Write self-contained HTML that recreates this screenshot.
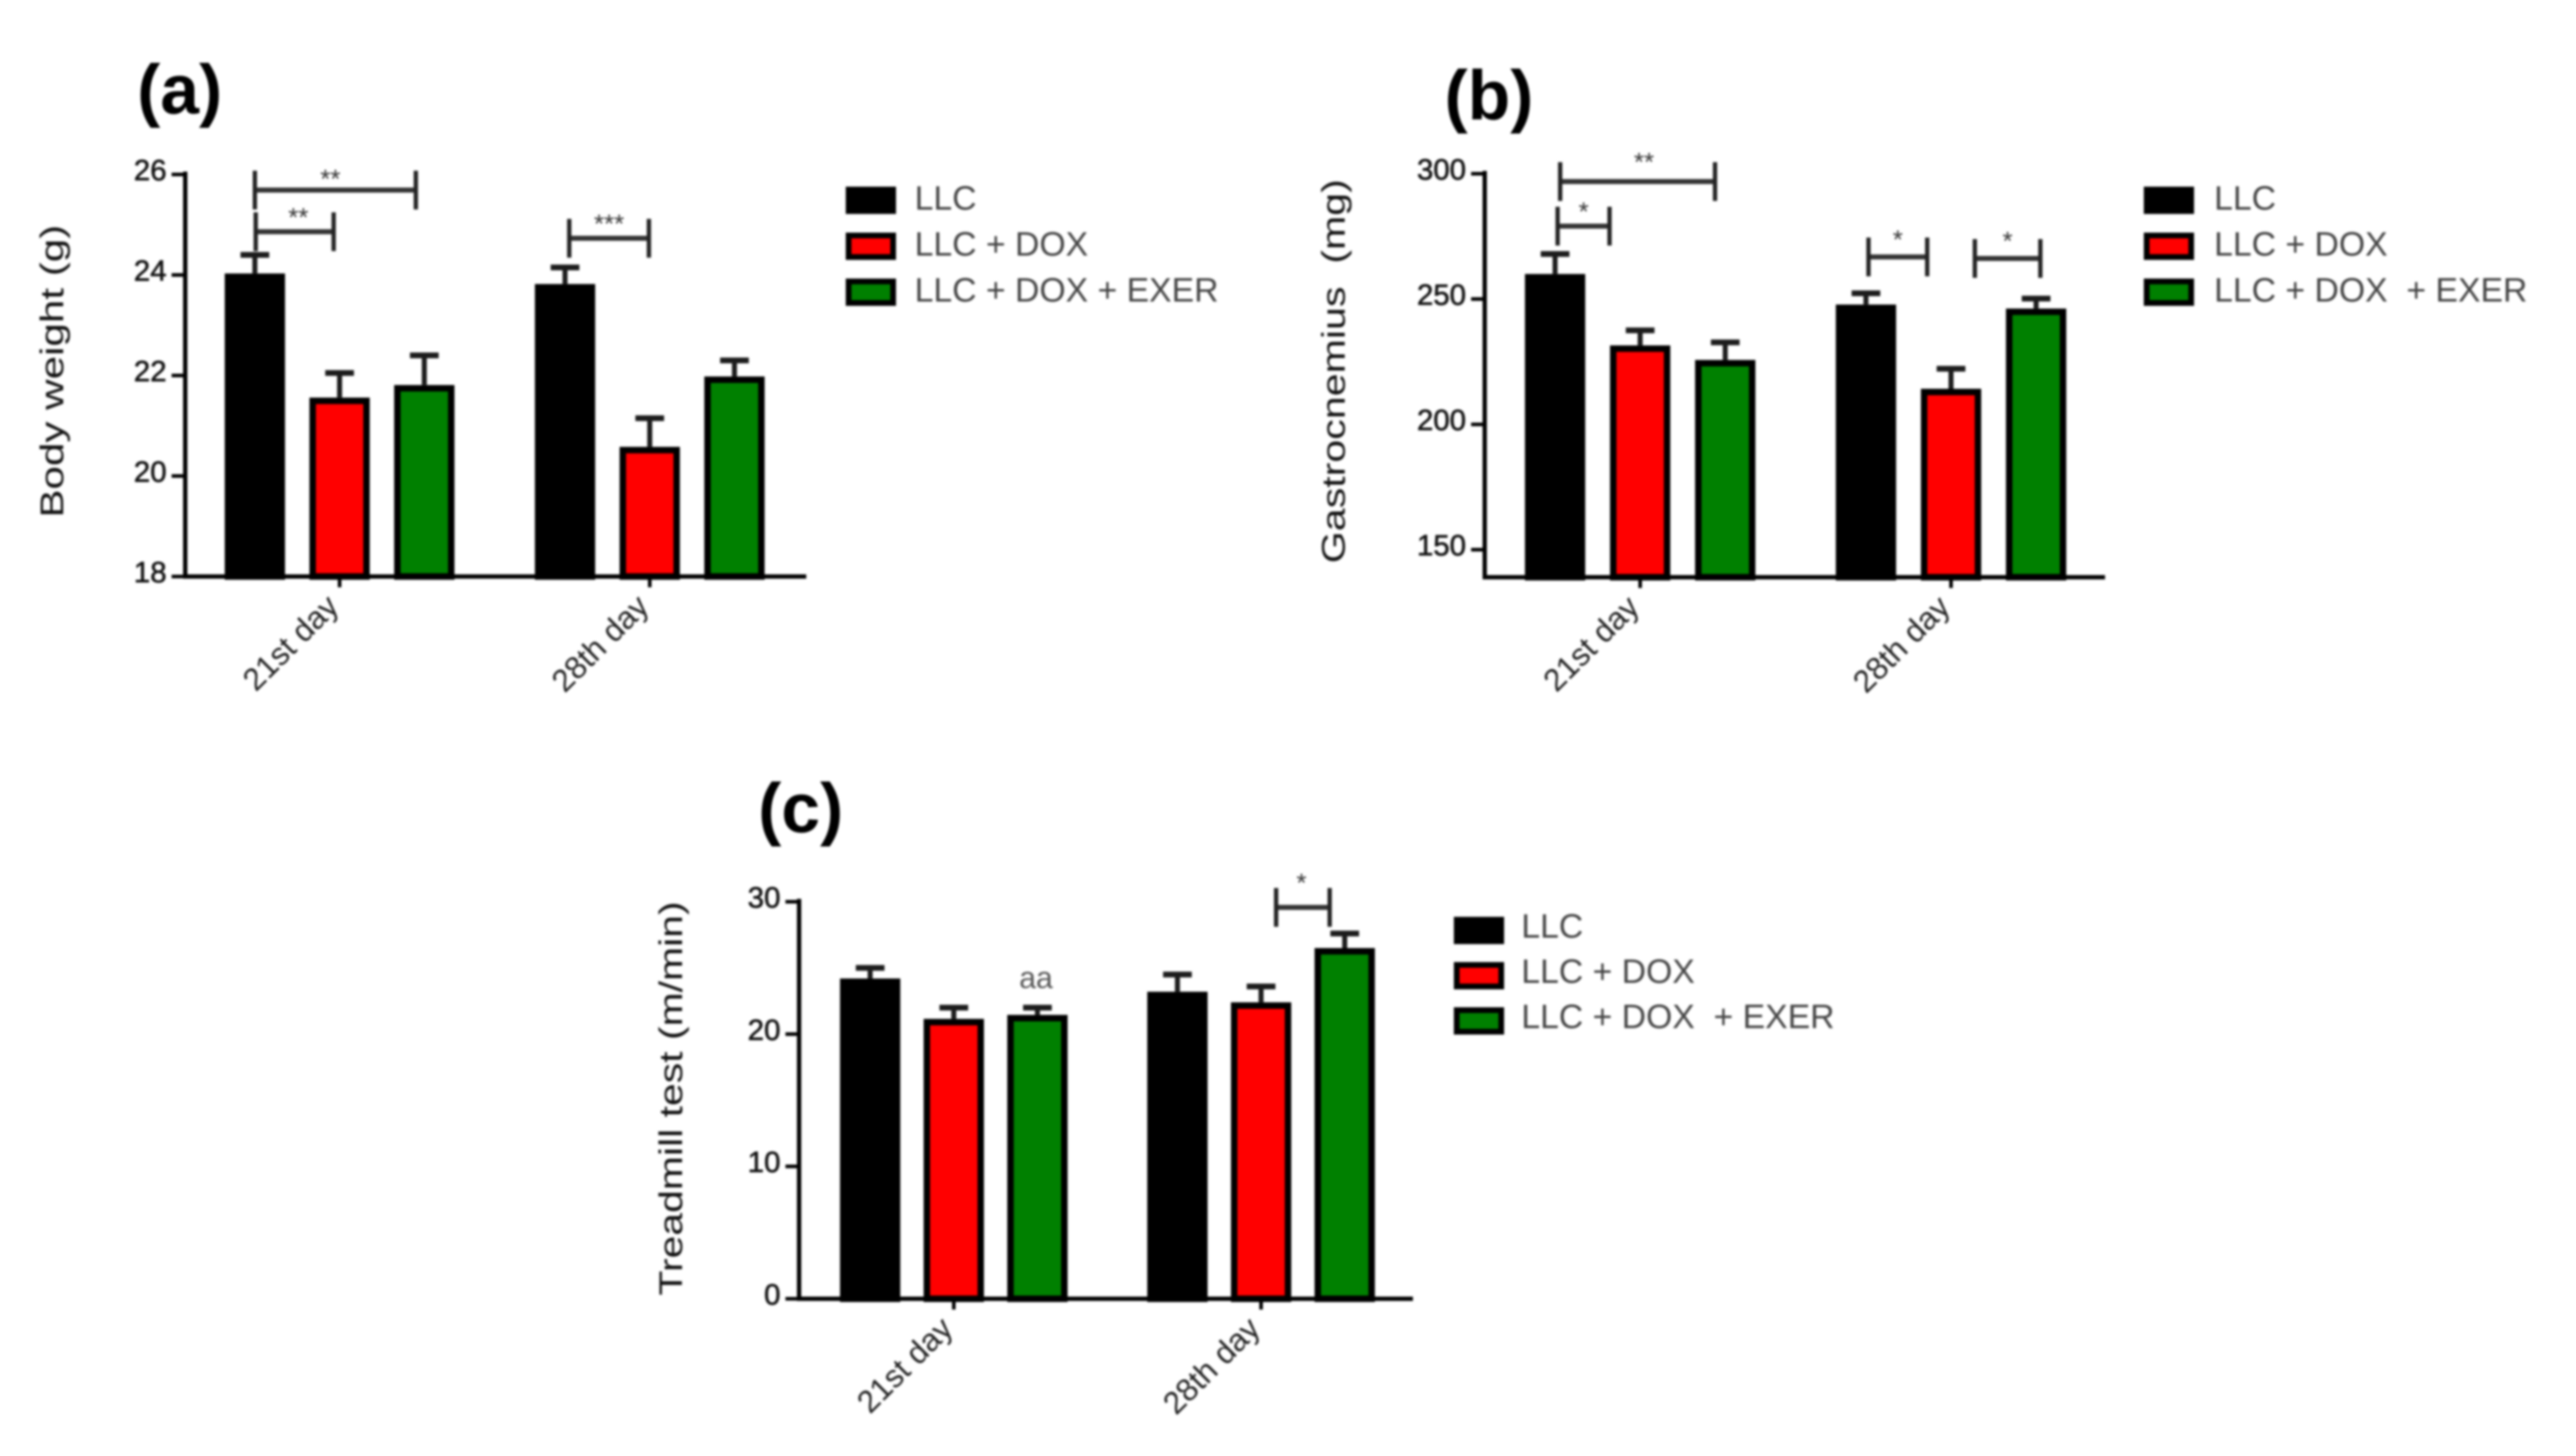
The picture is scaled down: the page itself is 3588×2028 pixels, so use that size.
<!DOCTYPE html>
<html lang="en">
<head>
<meta charset="utf-8">
<title>Body weight, gastrocnemius and treadmill test bar charts</title>
<style>
html,body{margin:0;padding:0;background:#fff;width:3588px;height:2028px;overflow:hidden}
svg{display:block;filter:blur(1.5px)}
text{font-family:"Liberation Sans",Arial,sans-serif;white-space:pre}
</style>
</head>
<body>
<svg id="figure" xmlns="http://www.w3.org/2000/svg" width="3588" height="2028" viewBox="0 0 3588 2028"></svg>
<script>
const categories = ['21st day', '28th day'];
const seriesColors = ['#000000', '#ff0000', '#008000'];

const weightTicks = [18, 20, 22, 24, 26];
const weightLLC = [24.03, 23.82];
const weightDOX = [21.56, 20.58];
const weightEXER = [21.81, 21.98];
const weightErrLLC = [0.37, 0.33];
const weightErrDOX = [0.49, 0.57];
const weightErrEXER = [0.59, 0.32];
const weightLegend = ['LLC', 'LLC + DOX', 'LLC + DOX + EXER'];
const weightBrackets = [[0, 0, 1.9, 25.69, '**', -7, 5], [0, 0.01, 0.93, 24.86, '**', 5, 0], [1, 0.05, 0.99, 24.73, '***', 0, 0]];

const gastroTicks = [150, 200, 250, 300];
const gastroLLC = [260, 247.8];
const gastroDOX = [231.5, 214.2];
const gastroEXER = [225.7, 246.2];
const gastroErrLLC = [8, 4.5];
const gastroErrDOX = [6, 8];
const gastroErrEXER = [7, 4];
const gastroLegend = ['LLC', 'LLC + DOX', 'LLC + DOX  + EXER'];
const gastroBrackets = [[0, 0.06, 1.88, 296.9, '**', 9, -7], [0, 0.03, 0.64, 279.1, '*', 0, 0], [1, 0.03, 0.72, 266.8, '*', 0, -4], [1, 1.28, 2.05, 266.2, '*', 0, -4]];

const treadTicks = [0, 10, 20, 30];
const treadLLC = [24.2, 23.2];
const treadDOX = [21.15, 22.4];
const treadEXER = [21.45, 26.5];
const treadErrLLC = [0.8, 1.3];
const treadErrDOX = [0.85, 1.2];
const treadErrEXER = [0.55, 1.1];
const treadLegend = ['LLC', 'LLC + DOX', 'LLC + DOX  + EXER'];
const treadBrackets = [[1, 1.18, 1.82, 29.57, '*', -2, -14]];

const NS = 'http://www.w3.org/2000/svg';
const root = document.getElementById('figure');

function mk(tag, attrs, name, parent) {
  const el = document.createElementNS(NS, tag);
  for (const k in attrs) el.setAttribute(k, attrs[k]);
  
  
  (parent || root).appendChild(el);
  return el;
}
function txt(content, attrs, name, parent) {
  const el = mk('text', attrs, name, parent);
  el.textContent = content;
  return el;
}

function drawPanel(p) {
  const g = mk('g', {}, 'panel-' + p.id);
  const y = v => p.yBottom + (v - p.domain[0]) * (p.yRef - p.yBottom) / (p.refValue - p.domain[0]);
  const x = (group, s) => p.x0 + group * p.groupStep + s * p.barStep;
  const values = [p.llc, p.dox, p.exer];
  const errors = [p.errLlc, p.errDox, p.errExer];
  const names = ['llc', 'dox', 'exer'];
  const barW = 84, sw = 9;

  txt('(' + p.id + ')', {x: p.labelX, y: p.labelY, 'font-size': 97, 'font-weight': 'bold', fill: '#000'}, 'panel-label', g);

  categories.forEach((cat, c) => {
    values.forEach((vals, s) => {
      const cx = x(c, s);
      const top = y(vals[c]), errTop = y(vals[c] + errors[s][c]);
      mk('line', {x1: cx, x2: cx, y1: top, y2: errTop, stroke: '#1c1c1c', 'stroke-width': 7}, 'error-bar-' + names[s], g);
      mk('line', {x1: cx - 20, x2: cx + 20, y1: errTop, y2: errTop, stroke: '#1c1c1c', 'stroke-width': 8}, 'error-cap-' + names[s], g);
      mk('rect', {x: cx - barW / 2 + sw / 2, y: top + sw / 2, width: barW - sw, height: p.yBottom - top - sw / 2,
        fill: seriesColors[s], stroke: '#000', 'stroke-width': sw}, 'bar-' + names[s] + '-' + (c ? '28th' : '21st'), g);
    });
    const tx = x(c, 1);
    mk('line', {x1: tx, x2: tx, y1: p.yBottom, y2: p.yBottom + 15, stroke: '#000', 'stroke-width': 5}, 'x-tick', g);
    txt(cat, {'text-anchor': 'end', 'font-size': 44, fill: '#222',
      transform: 'translate(' + (tx + 1) + ' ' + (p.yBottom + 44) + ') rotate(-45)'}, 'x-tick-label', g);
  });

  const topY = y(p.ticks[p.ticks.length - 1]);
  mk('line', {x1: p.axisX, x2: p.axisX, y1: topY - 4, y2: p.yBottom + 3, stroke: '#000', 'stroke-width': 6}, 'y-axis', g);
  mk('line', {x1: p.axisX - 3, x2: p.axisEnd, y1: p.yBottom, y2: p.yBottom, stroke: '#000', 'stroke-width': 6}, 'x-axis', g);
  p.ticks.forEach(t => {
    const ty = y(t);
    mk('line', {x1: p.axisX - 19, x2: p.axisX, y1: ty, y2: ty, stroke: '#000', 'stroke-width': 5}, 'y-tick', g);
    txt(String(t), {x: p.axisX - 26, y: ty + 8, 'text-anchor': 'end', 'font-size': 41, fill: '#111', stroke: '#111', 'stroke-width': 0.8}, 'y-tick-label', g);
  });

  txt(p.title, {'text-anchor': 'middle', 'font-size': 45, fill: '#111', textLength: p.titleLen, lengthAdjust: 'spacingAndGlyphs',
    transform: 'translate(' + p.titleX + ' ' + p.titleY + ') rotate(-90)'}, 'y-axis-title', g);

  p.brackets.forEach(b => {
    const x1 = x(b[0], b[1]), x2 = x(b[0], b[2]), by = y(b[3]);
    mk('line', {x1: x1, x2: x2, y1: by, y2: by, stroke: '#333', 'stroke-width': 7}, 'significance-bracket', g);
    mk('line', {x1: x1, x2: x1, y1: by - 27, y2: by + 27, stroke: '#222', 'stroke-width': 6}, 'bracket-end-left', g);
    mk('line', {x1: x2, x2: x2, y1: by - 27, y2: by + 27, stroke: '#222', 'stroke-width': 6}, 'bracket-end-right', g);
    txt(b[4], {x: (x1 + x2) / 2 + b[5], y: by - 8 + b[6], 'text-anchor': 'middle', 'font-size': 36, fill: '#333'}, 'significance-label', g);
  });

  p.legend.forEach((label, i) => {
    const ly = p.legendY + i * p.legendStep;
    mk('rect', {x: p.legendX + 4, y: ly - 14, width: 62, height: 30, fill: seriesColors[i], stroke: '#000', 'stroke-width': 8}, 'legend-swatch-' + names[i], g);
    txt(label, {x: p.legendTextX, y: ly + 16 + p.legendTextDy, 'font-size': 47, fill: '#444'}, 'legend-entry-' + names[i], g);
  });

  if (p.note) txt(p.note[0], {x: x(0, 2) - 2, y: y(p.note[1]), 'text-anchor': 'middle', 'font-size': 42, fill: '#555'}, 'annotation-aa', g);
}

drawPanel({id: 'a', labelX: 191, labelY: 158, title: 'Body weight (g)', titleX: 88, titleY: 517, titleLen: 408,
  domain: [18, 26], refValue: 26, yRef: 243, yBottom: 803, ticks: weightTicks, axisX: 258, axisEnd: 1123,
  x0: 355, groupStep: 432, barStep: 118,
  llc: weightLLC, dox: weightDOX, exer: weightEXER, errLlc: weightErrLLC, errDox: weightErrDOX, errExer: weightErrEXER,
  brackets: weightBrackets, legend: weightLegend, legendX: 1178, legendY: 278, legendStep: 64, legendTextX: 1274, legendTextDy: -2});

drawPanel({id: 'b', labelX: 2012, labelY: 166, title: 'Gastrocnemius  (mg)', titleX: 1873, titleY: 517, titleLen: 535,
  domain: [139, 300], refValue: 300, yRef: 242, yBottom: 804, ticks: gastroTicks, axisX: 2068, axisEnd: 2932,
  x0: 2166, groupStep: 433, barStep: 118.5,
  llc: gastroLLC, dox: gastroDOX, exer: gastroEXER, errLlc: gastroErrLLC, errDox: gastroErrDOX, errExer: gastroErrEXER,
  brackets: gastroBrackets, legend: gastroLegend, legendX: 2986, legendY: 278, legendStep: 64, legendTextX: 3084, legendTextDy: -2});

drawPanel({id: 'c', labelX: 1056, labelY: 1159, title: 'Treadmill test (m/min)', titleX: 950, titleY: 1530, titleLen: 549,
  domain: [0, 30], refValue: 30, yRef: 1256, yBottom: 1809, ticks: treadTicks, axisX: 1113, axisEnd: 1968,
  x0: 1212, groupStep: 428, barStep: 116.5,
  llc: treadLLC, dox: treadDOX, exer: treadEXER, errLlc: treadErrLLC, errDox: treadErrDOX, errExer: treadErrEXER,
  brackets: treadBrackets, legend: treadLegend, legendX: 2025, legendY: 1295, legendStep: 63, legendTextX: 2119, legendTextDy: -5, note: ['aa', 23.5]});
</script>
</body>
</html>
